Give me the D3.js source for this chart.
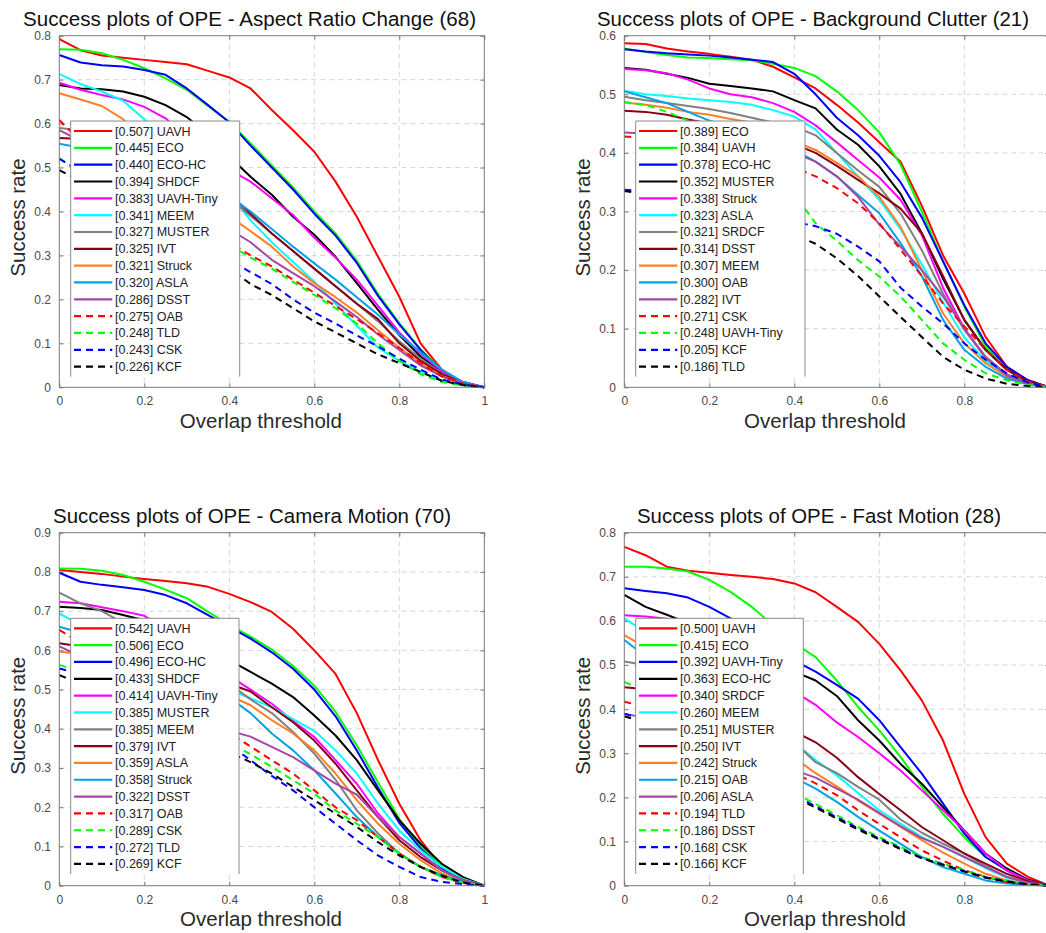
<!DOCTYPE html>
<html><head><meta charset="utf-8">
<script src="https://cdn.jsdelivr.net/npm/d3@7"></script>
<style>
body{margin:0;background:#fff;}
svg{display:block;font-family:'Liberation Sans',Arial,Helvetica,sans-serif;}
</style>
</head><body>
<svg id="chart" width="1046" height="933"></svg>
<script>
// ---------------- DATA ----------------
const thresholds = [0,0.05,0.1,0.15,0.2,0.25,0.3,0.35,0.4,0.45,0.5,0.55,0.6,0.65,0.7,0.75,0.8,0.85,0.9,0.95,1];
const xTickValues = [0,0.2,0.4,0.6,0.8,1];
const xTickLabels = ["0","0.2","0.4","0.6","0.8","1"];
const seriesColors = ["#ff0000","#00ff00","#0000ff","#000000","#ff00ff","#00ffff","#808080","#880015","#ff7f27","#00a2e8","#a349a4","#ff0000","#00ff00","#0000ff","#000000"];
const seriesDashed = [false,false,false,false,false,false,false,false,false,false,false,true,true,true,true];

// Panel 1: Aspect Ratio Change
const arcTitle = "Success plots of OPE - Aspect Ratio Change (68)";
const arcYTicks = [0,0.1,0.2,0.3,0.4,0.5,0.6,0.7,0.8];
const arcYLabels = ["0","0.1","0.2","0.3","0.4","0.5","0.6","0.7","0.8"];
const arcNames = ["UAVH","ECO","ECO-HC","SHDCF","UAVH-Tiny","MEEM","MUSTER","IVT","Struck","ASLA","DSST","OAB","TLD","CSK","KCF"];
const arcScores = ["0.507","0.445","0.440","0.394","0.383","0.341","0.327","0.325","0.321","0.320","0.286","0.275","0.248","0.243","0.226"];
const arcCurves = [
 [0.792,0.767,0.755,0.750,0.745,0.740,0.735,0.720,0.705,0.680,0.631,0.585,0.536,0.468,0.388,0.297,0.206,0.100,0.040,0.010,0],
 [0.769,0.768,0.760,0.745,0.726,0.703,0.677,0.640,0.604,0.555,0.505,0.455,0.400,0.350,0.288,0.212,0.146,0.087,0.037,0.010,0],
 [0.756,0.739,0.733,0.730,0.722,0.711,0.680,0.642,0.603,0.550,0.500,0.450,0.395,0.345,0.283,0.208,0.143,0.085,0.036,0.010,0],
 [0.688,0.680,0.678,0.673,0.661,0.642,0.615,0.575,0.525,0.479,0.438,0.388,0.347,0.297,0.237,0.176,0.119,0.070,0.036,0.012,0],
 [0.693,0.677,0.665,0.655,0.638,0.612,0.570,0.535,0.495,0.468,0.430,0.392,0.340,0.295,0.245,0.185,0.125,0.077,0.036,0.012,0],
 [0.713,0.690,0.673,0.652,0.610,0.570,0.530,0.490,0.440,0.380,0.330,0.285,0.240,0.190,0.140,0.090,0.060,0.035,0.015,0.005,0],
 [0.590,0.585,0.575,0.560,0.545,0.525,0.505,0.475,0.430,0.390,0.350,0.310,0.270,0.230,0.190,0.150,0.105,0.065,0.030,0.010,0],
 [0.567,0.565,0.560,0.550,0.535,0.515,0.495,0.470,0.440,0.395,0.350,0.310,0.270,0.230,0.190,0.155,0.100,0.060,0.030,0.010,0],
 [0.669,0.655,0.640,0.610,0.560,0.515,0.470,0.430,0.390,0.355,0.320,0.275,0.237,0.205,0.170,0.130,0.090,0.055,0.025,0.008,0],
 [0.554,0.545,0.535,0.520,0.505,0.490,0.470,0.450,0.435,0.400,0.360,0.320,0.282,0.245,0.205,0.165,0.120,0.080,0.040,0.012,0],
 [0.585,0.560,0.535,0.505,0.475,0.445,0.415,0.385,0.360,0.330,0.290,0.260,0.230,0.195,0.160,0.120,0.085,0.050,0.025,0.008,0],
 [0.608,0.560,0.520,0.485,0.450,0.420,0.390,0.360,0.330,0.300,0.275,0.245,0.215,0.185,0.155,0.123,0.090,0.055,0.025,0.008,0],
 [0.521,0.490,0.460,0.430,0.405,0.380,0.360,0.340,0.325,0.295,0.270,0.240,0.210,0.180,0.145,0.100,0.060,0.030,0.012,0.004,0],
 [0.520,0.490,0.465,0.440,0.415,0.390,0.365,0.335,0.290,0.262,0.235,0.200,0.170,0.145,0.118,0.093,0.065,0.040,0.018,0.006,0],
 [0.494,0.470,0.445,0.420,0.395,0.370,0.345,0.315,0.270,0.235,0.210,0.180,0.150,0.125,0.100,0.075,0.055,0.035,0.015,0.005,0]
];

// Panel 2: Background Clutter
const bcTitle = "Success plots of OPE - Background Clutter (21)";
const bcYTicks = [0,0.1,0.2,0.3,0.4,0.5,0.6];
const bcYLabels = ["0","0.1","0.2","0.3","0.4","0.5","0.6"];
const bcNames = ["ECO","UAVH","ECO-HC","MUSTER","Struck","ASLA","SRDCF","DSST","MEEM","OAB","IVT","CSK","UAVH-Tiny","KCF","TLD"];
const bcScores = ["0.389","0.384","0.378","0.352","0.338","0.323","0.321","0.314","0.307","0.300","0.282","0.271","0.248","0.205","0.186"];
const bcCurves = [
 [0.587,0.586,0.578,0.573,0.569,0.564,0.559,0.547,0.529,0.510,0.482,0.452,0.418,0.385,0.310,0.225,0.160,0.086,0.035,0.012,0],
 [0.578,0.572,0.567,0.563,0.562,0.560,0.558,0.552,0.545,0.531,0.505,0.473,0.435,0.380,0.300,0.215,0.138,0.070,0.030,0.010,0],
 [0.577,0.573,0.570,0.568,0.566,0.563,0.559,0.555,0.535,0.500,0.460,0.430,0.395,0.350,0.290,0.215,0.140,0.075,0.035,0.012,0],
 [0.545,0.542,0.535,0.528,0.518,0.514,0.510,0.505,0.490,0.476,0.440,0.414,0.377,0.330,0.263,0.185,0.115,0.064,0.030,0.010,0],
 [0.543,0.541,0.536,0.525,0.510,0.500,0.495,0.485,0.470,0.447,0.418,0.388,0.358,0.320,0.260,0.170,0.100,0.052,0.022,0.008,0],
 [0.506,0.500,0.497,0.493,0.490,0.487,0.482,0.473,0.462,0.440,0.400,0.360,0.320,0.270,0.210,0.145,0.085,0.045,0.020,0.005,0],
 [0.496,0.490,0.485,0.480,0.475,0.468,0.460,0.452,0.445,0.430,0.400,0.370,0.342,0.297,0.234,0.160,0.098,0.052,0.022,0.008,0],
 [0.472,0.470,0.465,0.457,0.450,0.440,0.430,0.420,0.415,0.400,0.378,0.354,0.331,0.305,0.263,0.190,0.115,0.064,0.030,0.010,0],
 [0.486,0.482,0.477,0.470,0.465,0.458,0.452,0.440,0.420,0.405,0.383,0.360,0.325,0.274,0.200,0.126,0.075,0.041,0.018,0.006,0],
 [0.505,0.495,0.485,0.470,0.455,0.445,0.435,0.420,0.405,0.385,0.360,0.328,0.297,0.246,0.190,0.115,0.064,0.035,0.015,0.005,0],
 [0.435,0.433,0.430,0.428,0.425,0.420,0.415,0.410,0.400,0.385,0.360,0.325,0.278,0.240,0.200,0.155,0.100,0.050,0.020,0.006,0],
 [0.428,0.425,0.420,0.415,0.410,0.405,0.400,0.390,0.375,0.360,0.340,0.314,0.280,0.235,0.190,0.143,0.104,0.064,0.030,0.010,0],
 [0.487,0.482,0.470,0.455,0.440,0.420,0.400,0.370,0.330,0.280,0.250,0.217,0.189,0.155,0.115,0.075,0.047,0.024,0.012,0.004,0],
 [0.337,0.335,0.330,0.322,0.315,0.305,0.298,0.290,0.282,0.275,0.262,0.240,0.215,0.170,0.138,0.109,0.075,0.047,0.024,0.008,0],
 [0.335,0.330,0.320,0.310,0.300,0.290,0.280,0.270,0.260,0.245,0.220,0.190,0.155,0.120,0.086,0.052,0.030,0.015,0.006,0.002,0]
];

// Panel 3: Camera Motion
const cmTitle = "Success plots of OPE - Camera Motion (70)";
const cmYTicks = [0,0.1,0.2,0.3,0.4,0.5,0.6,0.7,0.8,0.9];
const cmYLabels = ["0","0.1","0.2","0.3","0.4","0.5","0.6","0.7","0.8","0.9"];
const cmNames = ["UAVH","ECO","ECO-HC","SHDCF","UAVH-Tiny","MUSTER","MEEM","IVT","ASLA","Struck","DSST","OAB","CSK","TLD","KCF"];
const cmScores = ["0.542","0.506","0.496","0.433","0.414","0.385","0.385","0.379","0.359","0.358","0.322","0.317","0.289","0.272","0.269"];
const cmCurves = [
 [0.805,0.800,0.795,0.788,0.782,0.777,0.771,0.762,0.744,0.723,0.698,0.655,0.600,0.540,0.440,0.320,0.209,0.116,0.048,0.014,0],
 [0.809,0.808,0.803,0.792,0.775,0.755,0.733,0.698,0.665,0.635,0.602,0.560,0.510,0.443,0.358,0.263,0.170,0.100,0.050,0.018,0],
 [0.798,0.775,0.767,0.761,0.754,0.741,0.720,0.690,0.660,0.630,0.595,0.553,0.500,0.432,0.345,0.250,0.160,0.095,0.045,0.016,0],
 [0.711,0.708,0.703,0.690,0.677,0.650,0.625,0.600,0.575,0.545,0.515,0.481,0.434,0.383,0.320,0.243,0.167,0.107,0.056,0.022,0],
 [0.724,0.720,0.710,0.700,0.688,0.655,0.620,0.580,0.535,0.500,0.464,0.420,0.379,0.320,0.260,0.184,0.124,0.082,0.039,0.014,0],
 [0.694,0.665,0.640,0.615,0.590,0.565,0.540,0.520,0.500,0.478,0.455,0.425,0.395,0.345,0.286,0.209,0.141,0.090,0.048,0.017,0],
 [0.747,0.720,0.700,0.670,0.645,0.620,0.590,0.555,0.515,0.475,0.440,0.392,0.337,0.270,0.192,0.133,0.082,0.048,0.026,0.010,0],
 [0.618,0.610,0.600,0.590,0.578,0.565,0.550,0.535,0.515,0.495,0.455,0.417,0.370,0.311,0.243,0.175,0.116,0.073,0.039,0.014,0],
 [0.597,0.590,0.580,0.570,0.560,0.545,0.525,0.505,0.485,0.460,0.422,0.388,0.345,0.286,0.218,0.158,0.107,0.065,0.031,0.010,0],
 [0.660,0.645,0.630,0.615,0.600,0.580,0.550,0.520,0.480,0.440,0.388,0.345,0.294,0.235,0.175,0.124,0.082,0.048,0.026,0.010,0],
 [0.610,0.585,0.560,0.535,0.510,0.480,0.450,0.420,0.395,0.380,0.354,0.328,0.294,0.260,0.232,0.175,0.124,0.082,0.039,0.014,0],
 [0.652,0.620,0.590,0.560,0.530,0.500,0.465,0.430,0.390,0.355,0.320,0.286,0.243,0.200,0.167,0.124,0.082,0.048,0.022,0.007,0],
 [0.563,0.545,0.525,0.505,0.480,0.455,0.430,0.400,0.365,0.335,0.303,0.269,0.235,0.192,0.158,0.124,0.082,0.048,0.022,0.007,0],
 [0.554,0.540,0.525,0.505,0.485,0.460,0.430,0.400,0.360,0.320,0.280,0.243,0.200,0.158,0.116,0.077,0.048,0.022,0.010,0.004,0],
 [0.537,0.515,0.490,0.470,0.450,0.425,0.400,0.375,0.340,0.315,0.286,0.252,0.218,0.184,0.150,0.111,0.077,0.048,0.026,0.008,0]
];

// Panel 4: Fast Motion
const fmTitle = "Success plots of OPE - Fast Motion (28)";
const fmYTicks = [0,0.1,0.2,0.3,0.4,0.5,0.6,0.7,0.8];
const fmYLabels = ["0","0.1","0.2","0.3","0.4","0.5","0.6","0.7","0.8"];
const fmNames = ["UAVH","ECO","UAVH-Tiny","ECO-HC","SRDCF","MEEM","MUSTER","IVT","Struck","OAB","ASLA","TLD","DSST","CSK","KCF"];
const fmScores = ["0.500","0.415","0.392","0.363","0.340","0.260","0.251","0.250","0.242","0.215","0.206","0.194","0.186","0.168","0.166"];
const fmCurves = [
 [0.768,0.749,0.723,0.714,0.709,0.704,0.700,0.695,0.685,0.665,0.632,0.598,0.548,0.488,0.420,0.329,0.208,0.110,0.050,0.020,0],
 [0.723,0.723,0.719,0.712,0.693,0.666,0.632,0.590,0.550,0.518,0.465,0.405,0.352,0.292,0.224,0.163,0.110,0.065,0.035,0.012,0],
 [0.674,0.668,0.663,0.653,0.632,0.606,0.575,0.540,0.510,0.485,0.455,0.424,0.375,0.314,0.254,0.186,0.118,0.065,0.035,0.012,0],
 [0.659,0.632,0.614,0.595,0.575,0.555,0.535,0.510,0.485,0.465,0.430,0.375,0.329,0.276,0.231,0.178,0.125,0.073,0.039,0.014,0],
 [0.613,0.610,0.605,0.585,0.565,0.540,0.510,0.475,0.440,0.410,0.370,0.337,0.300,0.261,0.216,0.171,0.125,0.073,0.035,0.012,0],
 [0.606,0.575,0.530,0.500,0.470,0.435,0.400,0.360,0.325,0.285,0.250,0.210,0.171,0.141,0.110,0.088,0.065,0.040,0.018,0.006,0],
 [0.508,0.500,0.490,0.475,0.455,0.430,0.400,0.365,0.325,0.280,0.255,0.224,0.195,0.150,0.120,0.095,0.073,0.045,0.020,0.007,0],
 [0.450,0.445,0.440,0.430,0.420,0.405,0.390,0.370,0.350,0.325,0.290,0.246,0.208,0.171,0.133,0.103,0.073,0.050,0.027,0.010,0],
 [0.568,0.540,0.510,0.475,0.440,0.405,0.370,0.335,0.290,0.255,0.225,0.193,0.163,0.133,0.103,0.075,0.050,0.027,0.012,0.004,0],
 [0.557,0.520,0.480,0.440,0.400,0.360,0.320,0.285,0.245,0.220,0.190,0.156,0.125,0.095,0.065,0.042,0.027,0.012,0.005,0.002,0],
 [0.390,0.380,0.365,0.350,0.335,0.315,0.300,0.280,0.262,0.245,0.220,0.195,0.165,0.135,0.108,0.088,0.065,0.042,0.020,0.007,0],
 [0.417,0.405,0.390,0.375,0.355,0.335,0.310,0.285,0.255,0.232,0.205,0.171,0.140,0.110,0.080,0.057,0.035,0.020,0.008,0.003,0],
 [0.462,0.440,0.415,0.385,0.355,0.320,0.285,0.250,0.210,0.185,0.160,0.133,0.110,0.088,0.065,0.050,0.035,0.020,0.012,0.004,0],
 [0.390,0.375,0.360,0.340,0.320,0.295,0.270,0.240,0.205,0.180,0.155,0.130,0.107,0.085,0.063,0.048,0.033,0.019,0.010,0.003,0],
 [0.384,0.370,0.355,0.335,0.315,0.290,0.265,0.235,0.200,0.177,0.152,0.127,0.105,0.083,0.062,0.047,0.032,0.018,0.009,0.003,0]
];

const xLabelText = "Overlap threshold";
const yLabelText = "Success rate";

// ---------------- LAYOUT ----------------
const W = 1046, H = 933;
const panels = [
 {title:arcTitle, yTicks:arcYTicks, yLabels:arcYLabels, names:arcNames, scores:arcScores, curves:arcCurves,
  x0:59.3, x1:484.3, yT:35.7, yB:387.3, titleX:249.5, titleY:26, titleW:453, xlX:260.8, xlY:428.3, ylX:25, ylY:217.5, legX:70.7, legY:121, legW:169},
 {title:bcTitle, yTicks:bcYTicks, yLabels:bcYLabels, names:bcNames, scores:bcScores, curves:bcCurves,
  x0:624.3, x1:1049.3, yT:35.7, yB:387.3, titleX:813, titleY:26, titleW:432, xlX:825, xlY:428.3, ylX:590, ylY:217.5, legX:635.7, legY:121, legW:169.3},
 {title:cmTitle, yTicks:cmYTicks, yLabels:cmYLabels, names:cmNames, scores:cmScores, curves:cmCurves,
  x0:59.3, x1:484.3, yT:532.7, yB:885.7, titleX:252, titleY:523, titleW:398, xlX:261, xlY:926, ylX:25, ylY:715.8, legX:70.7, legY:618.3, legW:168.3},
 {title:fmTitle, yTicks:fmYTicks, yLabels:fmYLabels, names:fmNames, scores:fmScores, curves:fmCurves,
  x0:624.3, x1:1049.3, yT:532.7, yB:885.7, titleX:819, titleY:523, titleW:364, xlX:825, xlY:926, ylX:590, ylY:715.8, legX:635.7, legY:618.3, legW:167.6}
];

const svg = d3.select("#chart");
svg.append("rect").attr("width",W).attr("height",H).attr("fill","#fff");

panels.forEach(p => {
  const g = svg.append("g");
  const x = d3.scaleLinear().domain([0,1]).range([p.x0, p.x1]);
  const yMax = p.yTicks[p.yTicks.length-1];
  const y = d3.scaleLinear().domain([0,yMax]).range([p.yB, p.yT]);

  // grid
  const gridX = xTickValues.filter(v => v > 0 && v < 1);
  const gridY = p.yTicks.filter(v => v > 0 && v < yMax);
  g.selectAll(".gx").data(gridX).enter().append("line")
    .attr("x1", d => x(d)).attr("x2", d => x(d)).attr("y1", p.yT).attr("y2", p.yB)
    .attr("stroke","#d6d6d6").attr("stroke-width",1).attr("stroke-dasharray","5,4");
  g.selectAll(".gy").data(gridY).enter().append("line")
    .attr("x1", p.x0).attr("x2", p.x1).attr("y1", d => y(d)).attr("y2", d => y(d))
    .attr("stroke","#d6d6d6").attr("stroke-width",1).attr("stroke-dasharray","5,4");

  // axes (tick labels only where they fall inside the page, as in the cropped reference)
  const visibleX = xTickValues.filter(v => x(v) + 4 <= W);
  const ax = g.append("g").attr("transform",`translate(0,${p.yB})`)
    .call(d3.axisBottom(x).tickValues(visibleX).tickSizeInner(-4).tickSizeOuter(0).tickPadding(9.5)
      .tickFormat(d => xTickLabels[xTickValues.indexOf(d)]));
  const ay = g.append("g").attr("transform",`translate(${p.x0},0)`)
    .call(d3.axisLeft(y).tickValues(p.yTicks).tickSizeInner(-4).tickSizeOuter(0).tickPadding(8.3)
      .tickFormat((d,i) => p.yLabels[i]));
  const axt = g.append("g").attr("transform",`translate(0,${p.yT})`)
    .call(d3.axisTop(x).tickValues(xTickValues).tickSizeInner(-4).tickSizeOuter(0).tickFormat(""));
  const ayr = g.append("g").attr("transform",`translate(${p.x1},0)`)
    .call(d3.axisRight(y).tickValues(p.yTicks).tickSizeInner(-4).tickSizeOuter(0).tickFormat(""));
  [ax, ay, axt, ayr].forEach(a => {
    a.select(".domain").remove();
    a.selectAll(".tick line").attr("stroke","#7a7a7a");
    a.selectAll(".tick text").attr("fill","#4a4a4a").attr("font-size","12px")
      .attr("font-family","'Liberation Sans',Arial,Helvetica,sans-serif");
  });

  // curves
  const line = d3.line().x((d,i) => x(thresholds[i])).y(d => y(d));
  p.curves.forEach((c, i) => {
    g.append("path").datum(c).attr("d", line).attr("fill","none")
      .attr("stroke", seriesColors[i]).attr("stroke-width", 2)
      .attr("stroke-linejoin","round")
      .attr("stroke-dasharray", seriesDashed[i] ? "7,5" : null);
  });

  // box
  g.append("rect").attr("x",p.x0).attr("y",p.yT).attr("width",p.x1-p.x0).attr("height",p.yB-p.yT)
    .attr("fill","none").attr("stroke","#7a7a7a").attr("stroke-width",1);

  // legend
  const legH = 255.7;
  const lg = g.append("g");
  lg.append("rect").attr("x",p.legX).attr("y",p.legY).attr("width",p.legW).attr("height",legH).attr("fill","#fff");
  lg.append("path")
    .attr("d", `M${p.legX},${p.legY+legH}V${p.legY}H${p.legX+p.legW}V${p.legY+legH}`)
    .attr("fill","none").attr("stroke","#8a8a8a").attr("stroke-width",1);
  const rowStep = 16.83;
  p.names.forEach((n, i) => {
    const ry = p.legY + 10 + i*rowStep;
    lg.append("line").attr("x1",p.legX+3.3).attr("x2",p.legX+41.6).attr("y1",ry).attr("y2",ry)
      .attr("stroke",seriesColors[i]).attr("stroke-width",2.2)
      .attr("stroke-dasharray", seriesDashed[i] ? "7,5" : null);
    lg.append("text").attr("x",p.legX+44.3).attr("y",ry+4.5)
      .attr("font-size","12.5px").attr("fill","#222")
      .text(`[${p.scores[i]}] ${n}`);
  });

  // titles / labels
  g.append("text").attr("x",p.titleX).attr("y",p.titleY).attr("text-anchor","middle")
    .attr("font-size","20.5px").attr("fill","#111")
    .attr("textLength",p.titleW).attr("lengthAdjust","spacingAndGlyphs").text(p.title);
  g.append("text").attr("x",p.xlX).attr("y",p.xlY).attr("text-anchor","middle")
    .attr("font-size","20.5px").attr("fill","#2a2a2a")
    .attr("textLength",162).attr("lengthAdjust","spacingAndGlyphs").text(xLabelText);
  g.append("text").attr("transform",`translate(${p.ylX},${p.ylY}) rotate(-90)`).attr("text-anchor","middle")
    .attr("font-size","20.5px").attr("fill","#2a2a2a")
    .attr("textLength",118).attr("lengthAdjust","spacingAndGlyphs").text(yLabelText);
});
</script>
</body></html>
